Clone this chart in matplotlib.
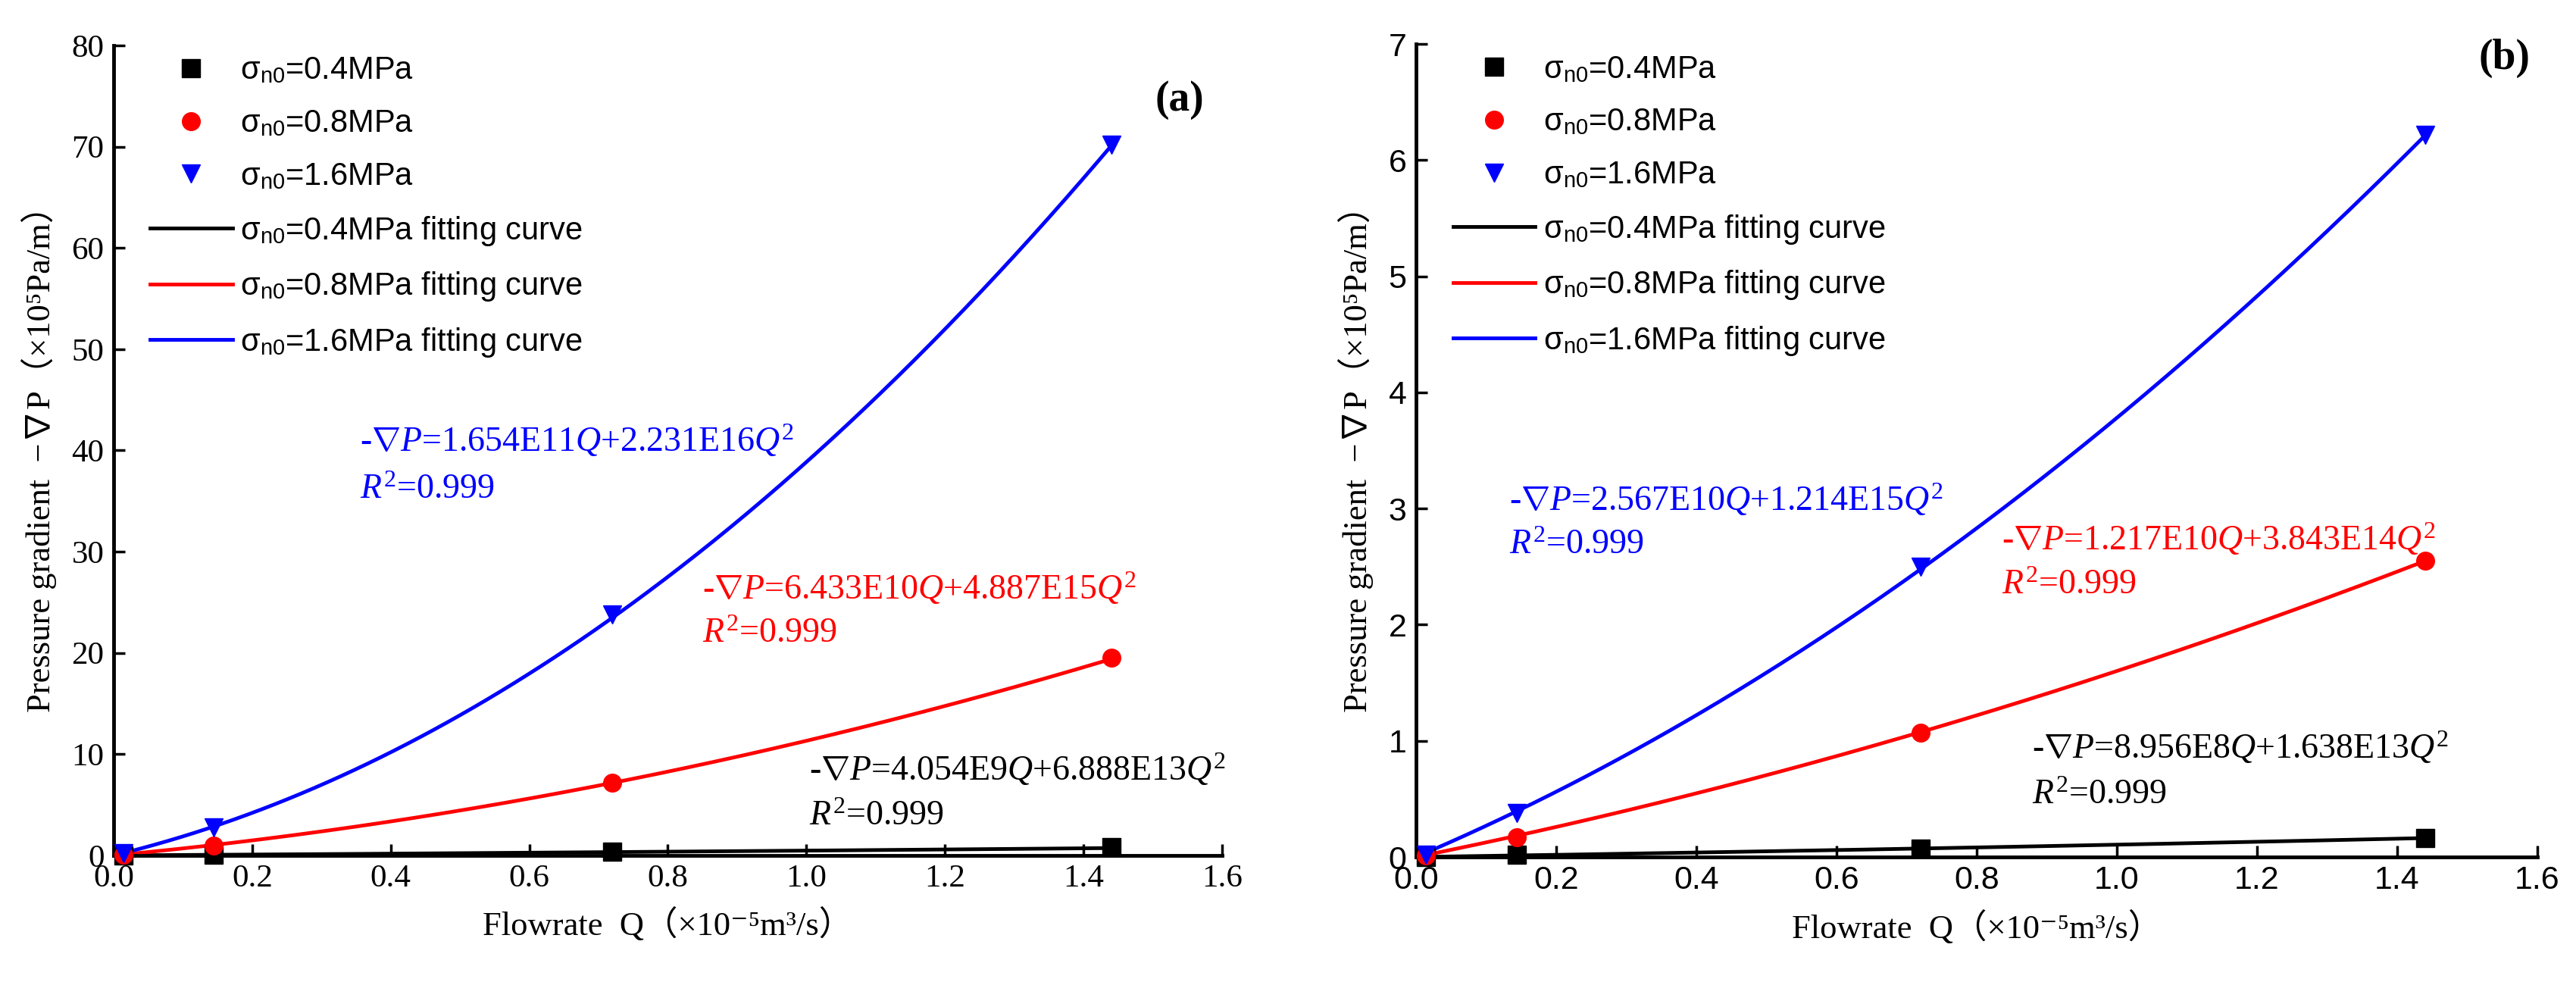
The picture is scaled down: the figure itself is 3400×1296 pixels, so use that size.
#!/usr/bin/env python3
# -*- coding: utf-8 -*-
"""
流量と圧力勾配の関係 (a)(b) を再現するスクリプト
"""

import numpy as np
import matplotlib
matplotlib.use("Agg")
import matplotlib.pyplot as plt

# フォント設定
plt.rcParams['font.family'] = ['Liberation Serif', 'DejaVu Serif']
plt.rcParams['mathtext.fontset'] = 'custom'
plt.rcParams['mathtext.rm'] = 'Liberation Serif'
plt.rcParams['mathtext.it'] = 'Liberation Serif:italic'
plt.rcParams['mathtext.bf'] = 'Liberation Serif:bold'

# ---- データ ----
# 流量 Q (×10^-5 m^3/s)
flowrate = [0.0144, 0.144, 0.72, 1.44]

# (a) 圧力勾配 (×10^5 Pa/m)
grad_a_04 = [0.0, 0.05, 0.4, 0.8]
grad_a_08 = [0.1, 1.0, 7.2, 19.5]
grad_a_16 = [0.2, 2.8, 23.8, 70.2]

# (b) 圧力勾配 (×10^5 Pa/m)
grad_b_04 = [0.0, 0.02, 0.07, 0.16]
grad_b_08 = [0.01, 0.17, 1.07, 2.55]
grad_b_16 = [0.02, 0.38, 2.50, 6.22]

# フィッティング係数  -∇P = c1*Q + c2*Q^2 (SI単位)
fit_a_lin = [4.054e9, 6.433e10, 1.654e11]
fit_a_quad = [6.888e13, 4.887e15, 2.231e16]
fit_b_lin = [8.956e8, 1.217e10, 2.567e10]
fit_b_quad = [1.638e13, 3.843e14, 1.214e15]

stress_labels = ['0.4', '0.8', '1.6']

eq_a = ['-$\\nabla P$=4.054E9$Q$+6.888E13$Q^{2}$',
        '-$\\nabla P$=6.433E10$Q$+4.887E15$Q^{2}$',
        '-$\\nabla P$=1.654E11$Q$+2.231E16$Q^{2}$']
eq_b = ['-$\\nabla P$=8.956E8$Q$+1.638E13$Q^{2}$',
        '-$\\nabla P$=1.217E10$Q$+3.843E14$Q^{2}$',
        '-$\\nabla P$=2.567E10$Q$+1.214E15$Q^{2}$']
r2_text = '$R^{2}$=0.999'

x_ticks = [0.0, 0.2, 0.4, 0.6, 0.8, 1.0, 1.2, 1.4, 1.6]

colors = ['black', '#FF0000', '#0000FF']
markers = ['s', 'o', 'v']

ylabel = 'Pressure gradient  −∇P（×10⁵Pa/m）'
xlabel = 'Flowrate  Q（×10⁻⁵m³/s）'
label_family = ['Liberation Serif', 'Noto Sans CJK SC', 'DejaVu Serif']


def fit_curve(c_lin, c_quad, q):
    """フィット式から曲線を計算 (単位: ×10^5 Pa/m)"""
    q_si = q * 1e-5
    return (c_lin * q_si + c_quad * q_si ** 2) / 1e5


def draw_panel(ax, series, c_lin, c_quad, ymax, tick_family, eqs, eq_pos, tag, tag_pos):
    """1枚のパネルを描画"""
    q = np.array(flowrate)
    q_line = np.linspace(0.0, q[-1], 300)

    point_handles = []
    line_handles = []
    for i in range(3):
        ln, = ax.plot(q_line, fit_curve(c_lin[i], c_quad[i], q_line), '-',
                      color=colors[i], lw=3.5, zorder=2,
                      label='σ$_{\\mathregular{n0}}$=' + stress_labels[i] + 'MPa fitting curve')
        line_handles.append(ln)
    for i in range(3):
        pt, = ax.plot(q, series[i], linestyle='none', marker=markers[i],
                      color=colors[i], markersize=17, clip_on=False, zorder=3,
                      label='σ$_{\\mathregular{n0}}$=' + stress_labels[i] + 'MPa')
        point_handles.append(pt)

    ax.set_xlim(0, 1.6)
    ax.set_ylim(0, ymax)
    ax.set_xticks(x_ticks)
    ax.set_xticklabels(['%.1f' % t for t in x_ticks])

    # 軸の体裁
    for side in ['top', 'right']:
        ax.spines[side].set_visible(False)
    for side in ['left', 'bottom']:
        ax.spines[side].set_linewidth(3.5)
    ax.tick_params(direction='in', length=11, width=2.5, labelsize=31,
                   labelfontfamily=tick_family)
    ax.tick_params(axis='x', pad=8)
    ax.tick_params(axis='y', pad=9)

    ax.set_xlabel(xlabel, fontsize=32, labelpad=14, fontfamily=label_family)
    ax.set_ylabel(ylabel, fontsize=32, labelpad=14, fontfamily=label_family)

    # 凡例
    ax.legend(handles=point_handles + line_handles, loc='upper left',
              bbox_to_anchor=(0.033, 0.987), frameon=False,
              prop={'family': 'Liberation Sans', 'size': 30},
              handlelength=2.6, handletextpad=0.25, labelspacing=0.71,
              borderpad=0, borderaxespad=0, numpoints=1)

    # フィット式
    for i in range(3):
        x0, y_eq, y_r2 = eq_pos[i]
        ax.text(x0, y_eq, eqs[i], color=colors[i], fontsize=33, ha='left', va='center')
        ax.text(x0, y_r2, r2_text, color=colors[i], fontsize=33, ha='left', va='center')

    ax.text(tag_pos[0], tag_pos[1], tag, fontsize=40, fontweight='bold',
            ha='center', va='center')


def main():
    fig = plt.figure(figsize=(34, 12.96), dpi=100)

    ax_a = fig.add_axes([0.0441, 0.1289, 0.4303, 0.8249])
    ax_b = fig.add_axes([0.5497, 0.1273, 0.4353, 0.8279])

    draw_panel(ax_a, [grad_a_04, grad_a_08, grad_a_16], fit_a_lin, fit_a_quad, 80,
               'Liberation Serif', eq_a,
               [(1.004, 8.4, 3.8), (0.85, 26.3, 21.9), (0.355, 40.9, 36.1)],
               '(a)', (1.539, 74.6))
    ax_a.set_yticks(range(0, 81, 10))

    draw_panel(ax_b, [grad_b_04, grad_b_08, grad_b_16], fit_b_lin, fit_b_quad, 7,
               'Liberation Sans', eq_b,
               [(0.879, 0.94, 0.53), (0.836, 2.73, 2.34), (0.133, 3.07, 2.68)],
               '(b)', (1.553, 6.88))
    ax_b.set_yticks(range(0, 8))

    fig.savefig('out.png', dpi=100)
    plt.close(fig)


if __name__ == "__main__":
    main()
